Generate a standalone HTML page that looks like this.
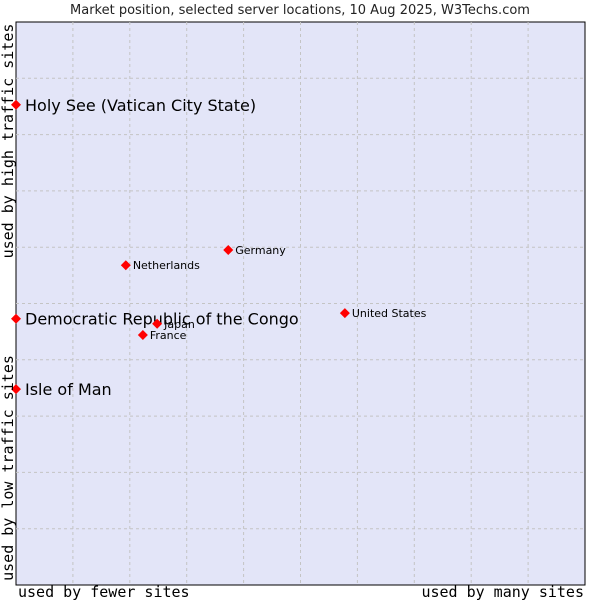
<!DOCTYPE html>
<html><head><meta charset="utf-8"><style>
html,body{margin:0;padding:0;background:#fff;}
svg{display:block;font-family:"DejaVu Sans","Liberation Sans",sans-serif;}
</style></head><body>
<svg id="chart" width="600" height="600">
<text x="300" y="14" text-anchor="middle" font-size="13" fill="#222">Market position, selected server locations, 10 Aug 2025, W3Techs.com</text>
<rect x="16" y="22" width="569" height="563" fill="#e3e5f8" stroke="#000" stroke-width="1"/>
<g id="grid"></g>
<g id="points"></g>
<text transform="translate(13,141) rotate(-90)" text-anchor="middle" font-family="DejaVu Sans Mono,monospace" font-size="15" fill="#000">used by high traffic sites</text>
<text transform="translate(13,468) rotate(-90)" text-anchor="middle" font-family="DejaVu Sans Mono,monospace" font-size="15" fill="#000">used by low traffic sites</text>
<text x="18" y="597" font-family="DejaVu Sans Mono,monospace" font-size="15" fill="#000">used by fewer sites</text>
<text x="584" y="597" text-anchor="end" font-family="DejaVu Sans Mono,monospace" font-size="15" fill="#000">used by many sites</text>
</svg>
<script>
const labels = ["Holy See (Vatican City State)","Democratic Republic of the Congo","Isle of Man","Netherlands","Germany","Japan","France","United States"];
const xValues = [0,0,0,19.3,37.3,24.8,22.3,57.8];
const yValues = [85.3,47.3,34.8,56.8,59.5,46.4,44.4,48.3];
const highlighted = [true,true,true,false,false,false,false,false];
const gridSteps = [1,2,3,4,5,6,7,8,9];

const L=16,T=22,W=569,H=563;
const NS="http://www.w3.org/2000/svg";
function sx(v){return L+v/100*W;}
function sy(v){return T+H-v/100*H;}
const grid=document.getElementById('grid');
gridSteps.forEach(s=>{
  const v=document.createElementNS(NS,'line');
  v.setAttribute('x1',sx(s*10));v.setAttribute('x2',sx(s*10));v.setAttribute('y1',T);v.setAttribute('y2',T+H);
  v.setAttribute('stroke','#c4c4c4');v.setAttribute('stroke-dasharray','3,3');
  
  
  grid.appendChild(v);
  const h=document.createElementNS(NS,'line');
  h.setAttribute('y1',sy(s*10));h.setAttribute('y2',sy(s*10));h.setAttribute('x1',L);h.setAttribute('x2',L+W);
  h.setAttribute('stroke','#c4c4c4');h.setAttribute('stroke-dasharray','3,3');
  
  
  grid.appendChild(h);
});
const pts=document.getElementById('points');
labels.forEach((lab,i)=>{
  const x=sx(xValues[i]),y=sy(yValues[i]);
  const d=document.createElementNS(NS,'polygon');
  d.setAttribute('points',`${x},${y-5} ${x+5},${y} ${x},${y+5} ${x-5},${y}`);
  d.setAttribute('fill','#f00');
  
  
  pts.appendChild(d);
  const t=document.createElementNS(NS,'text');
  const big=highlighted[i];
  t.setAttribute('x',x+(big?9:7));
  t.setAttribute('y',y+(big?6:4));
  t.setAttribute('font-size',big?16:11);
  t.setAttribute('fill','#000');
  t.textContent=lab;
  
  
  pts.appendChild(t);
});
</script>
</body></html>
